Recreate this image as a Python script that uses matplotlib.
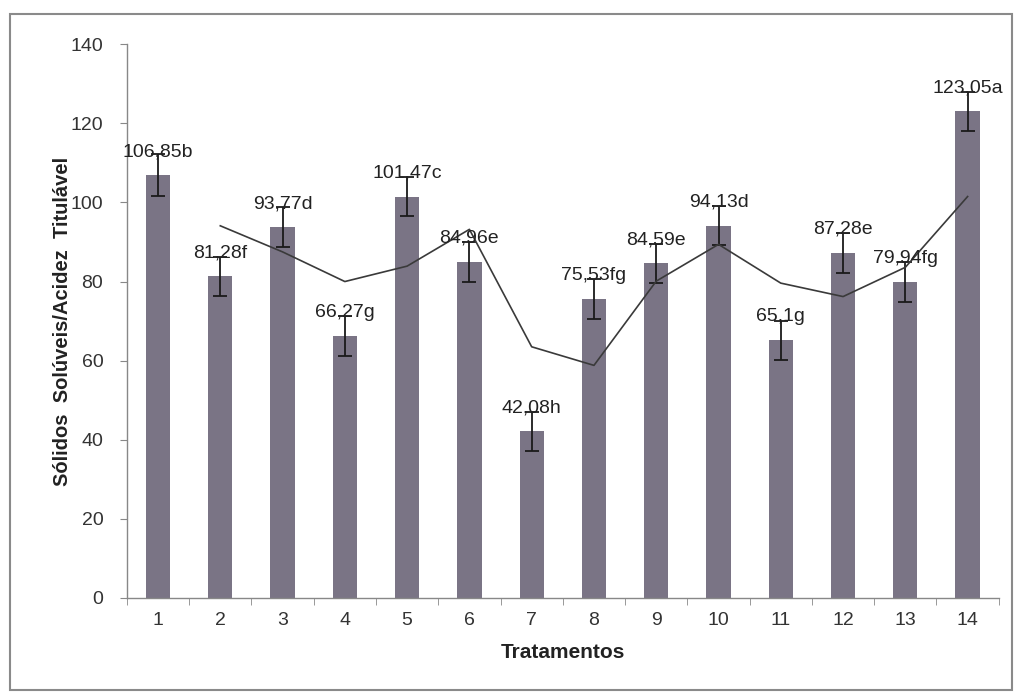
import matplotlib
matplotlib.use("Agg")
import matplotlib.pyplot as plt
from matplotlib.patches import Rectangle

plt.rcParams['font.family'] = ['Liberation Sans', 'DejaVu Sans']

categories = ["1", "2", "3", "4", "5", "6", "7", "8", "9", "10", "11", "12", "13", "14"]
values = [106.85, 81.28, 93.77, 66.27, 101.47, 84.96, 42.08, 75.53, 84.59, 94.13, 65.1, 87.28, 79.94, 123.05]
errors = [5.3, 5.0, 5.0, 5.0, 5.0, 5.0, 5.0, 5.0, 5.0, 5.0, 5.0, 5.0, 5.0, 5.0]
labels = ["106,85b", "81,28f", "93,77d", "66,27g", "101,47c", "84,96e", "42,08h",
          "75,53fg", "84,59e", "94,13d", "65,1g", "87,28e", "79,94fg", "123,05a"]
trend_cats = ["2", "3", "4", "5", "6", "7", "8", "9", "10", "11", "12", "13", "14"]
trend_vals = [94.1, 87.5, 80.0, 83.9, 93.2, 63.5, 58.8, 80.1, 89.4, 79.6, 76.2, 83.6, 101.5]

fig = plt.figure(figsize=(10.15, 6.92), dpi=100)
fig.patch.set_facecolor("white")
ax = fig.add_axes([0.125, 0.136, 0.859, 0.800])

x = list(range(len(categories)))
ax.bar(x, values, width=0.39, color="#7a7485", zorder=2)
ax.errorbar(x, values, yerr=errors, fmt="none", ecolor="#1a1a1a",
            elinewidth=1.3, capsize=5, capthick=1.3, zorder=3)
tx = [categories.index(c) for c in trend_cats]
ax.plot(tx, trend_vals, color="#3a3a3a", linewidth=1.2, zorder=4)

for xi, v, lab in zip(x, values, labels):
    ax.text(xi, v + 3.8, lab, ha="center", va="bottom", fontsize=14, color="#222222", zorder=5)

ax.set_xlim(-0.5, len(categories) - 0.5)
ax.set_ylim(0, 140)
ax.set_yticks(range(0, 141, 20))
ax.set_xticks(x)
ax.set_xticklabels(categories)
ax.set_xticks([i + 0.5 for i in range(-1, len(categories))], minor=True)
ax.tick_params(axis="x", which="major", length=0, pad=10, labelsize=14, labelcolor="#333333")
ax.tick_params(axis="x", which="minor", length=5, color="#888888", direction="out")
ax.tick_params(axis="y", length=5, color="#888888", labelsize=14, labelcolor="#333333", pad=12)
for s in ["top", "right"]:
    ax.spines[s].set_visible(False)
for s in ["left", "bottom"]:
    ax.spines[s].set_color("#888888")
    ax.spines[s].set_linewidth(1.0)

ax.set_xlabel("Tratamentos", fontsize=15, fontweight="bold", color="#222222", labelpad=10)
ax.set_ylabel("Sólidos  Solúveis/Acidez  Titulável", fontsize=14.5, fontweight="bold",
              color="#222222", labelpad=-1)

frame = Rectangle((10 / 1015, 2 / 692), 1002 / 1015, 676 / 692, transform=fig.transFigure,
                  fill=False, edgecolor="#8a8a8a", linewidth=1.5)
fig.patches.append(frame)

fig.savefig("out.png", dpi=100)
